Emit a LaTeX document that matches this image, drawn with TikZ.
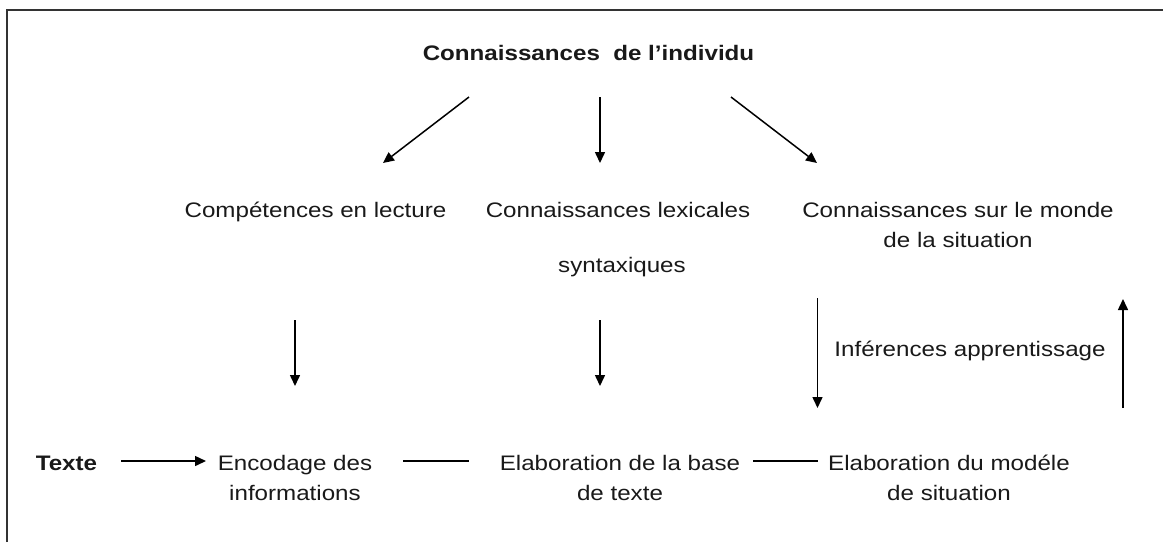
\documentclass[tikz,border=0pt]{standalone}
\usepackage{fontspec}
\setmainfont{Liberation Sans}[FakeStretch=1.15]
\usetikzlibrary{arrows.meta}
\begin{document}
\begin{tikzpicture}[x=1pt,y=-1pt,
  lbl/.style={inner sep=0pt, align=center, anchor=base, text=black!90,
    font=\fontsize{21}{30}\selectfont},
  bold/.style={lbl, font=\fontsize{21}{30}\selectfont\bfseries},
  arr/.style={line width=1.5pt, -{Triangle[length=11pt,width=10pt]}},
  ln/.style={line width=1.5pt}]
\useasboundingbox (0,0) rectangle (1163,542);
\fill[white] (0,0) rectangle (1163,542);
\draw[line width=2pt, black!80] (7,542) -- (7,10) -- (1163,10);

\node[bold] (title) at (588.5,60) {Connaissances\ \ de l’individu};

\node[lbl] (comp) at (315.5,217) {Compétences en lecture};
\node[lbl] (lex) at (618,217) {Connaissances lexicales};
\node[lbl] (syn) at (622,272) {syntaxiques};
\node[lbl] (monde) at (958,247) {Connaissances sur le monde\\de la situation};

\node[lbl] (inf) at (970,356) {Inférences apprentissage};

\node[bold] (texte) at (66.5,470) {Texte};
\node[lbl] (enc) at (295,500) {Encodage des\\informations};
\node[lbl] (base) at (620,500) {Elaboration de la base\\de texte};
\node[lbl] (mod) at (949,500) {Elaboration du modéle\\de situation};

% arrow endpoints
\coordinate (t1) at (469,97);   \coordinate (c1) at (383,163);
\coordinate (t2) at (600,97);   \coordinate (c2) at (600,163);
\coordinate (t3) at (731,97);   \coordinate (c3) at (817,163);
\coordinate (e0) at (295,320);  \coordinate (e1) at (295,386);
\coordinate (b0) at (600,320);  \coordinate (b1) at (600,386);
\coordinate (m0) at (817.5,298); \coordinate (m1) at (817.5,408);
\coordinate (u0) at (1123,408); \coordinate (u1) at (1123,299);
\coordinate (x0) at (121,461);  \coordinate (x1) at (206,461);
\coordinate (l0) at (403,461);  \coordinate (l1) at (469,461);
\coordinate (r0) at (753,461);  \coordinate (r1) at (818,461);

\draw[arr] (t1) -- (c1);
\draw[arr] (t2) -- (c2);
\draw[arr] (t3) -- (c3);
\draw[arr] (e0) -- (e1);
\draw[arr] (b0) -- (b1);
\draw[arr] (m0) -- (m1);
\draw[arr] (u0) -- (u1);
\draw[arr] (x0) -- (x1);
\draw[ln] (l0) -- (l1);
\draw[ln] (r0) -- (r1);
\end{tikzpicture}
\end{document}
